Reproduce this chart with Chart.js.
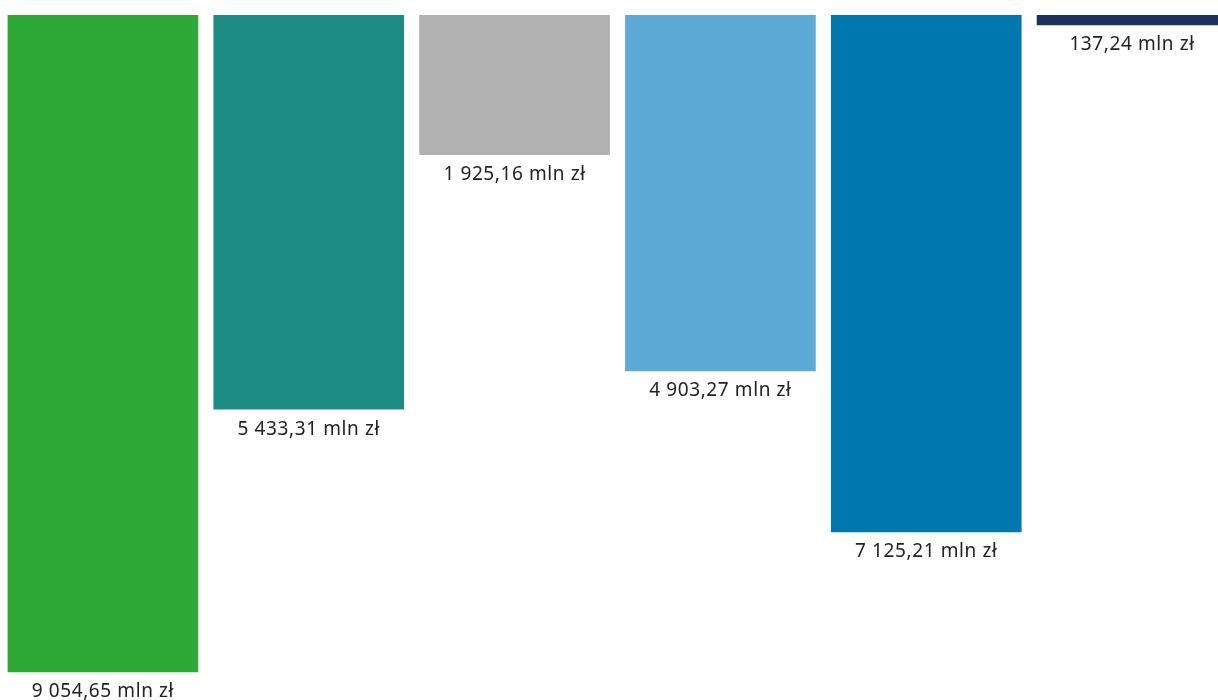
<!DOCTYPE html>
<html lang="pl">
<head>
    <meta charset="utf-8">
    <title>Wykres</title>
    <script src="https://cdn.jsdelivr.net/npm/chart.js@4"></script>
    <style>
        html, body { margin: 0; padding: 0; background: #fff; overflow: hidden; }
        #wrap { position: relative; width: 1235px; height: 700px; }
    </style>
</head>
<body>
    <div id="wrap"><canvas id="chart"></canvas></div>
    <script>
        // values in mln zł
        const categories = ['A', 'B', 'C', 'D', 'E', 'F'];
        const values = [9054.65, 5433.31, 1925.16, 4903.27, 7125.21, 137.24];
        const labels = ['9 054,65 mln zł', '5 433,31 mln zł', '1 925,16 mln zł', '4 903,27 mln zł', '7 125,21 mln zł', '137,24 mln zł'];
        const colors = ['#2ea836', '#1d8c84', '#b1b1b1', '#5daad6', '#0077ae', '#1f2f5e'];

        // text under each bar
        const valueLabels = {
            id: 'valueLabels',
            afterDatasetsDraw(chart) {
                const ctx = chart.ctx;
                const meta = chart.getDatasetMeta(0);
                ctx.save();
                ctx.font = '19px "Noto Sans"';
                ctx.letterSpacing = '0.6px';
                ctx.fillStyle = '#222';
                ctx.textAlign = 'center';
                ctx.textBaseline = 'middle';
                meta.data.forEach((bar, i) => {
                    ctx.fillText(labels[i], bar.x, bar.y + 20);
                });
                ctx.restore();
            }
        };

        new Chart(document.getElementById('chart'), {
            type: 'bar',
            data: {
                labels: categories,
                datasets: [{
                    data: values,
                    backgroundColor: colors,
                    borderWidth: 0,
                    barThickness: 190
                }]
            },
            options: {
                responsive: true,
                maintainAspectRatio: false,
                animation: false,
                layout: { padding: { top: 15, bottom: 0, left: 0, right: 0 } },
                plugins: { legend: { display: false }, tooltip: { enabled: false } },
                scales: {
                    x: { display: false },
                    y: { display: false, reverse: true, min: 0, max: 9440 }
                }
            },
            plugins: [valueLabels]
        });
    </script>
</body>
</html>
